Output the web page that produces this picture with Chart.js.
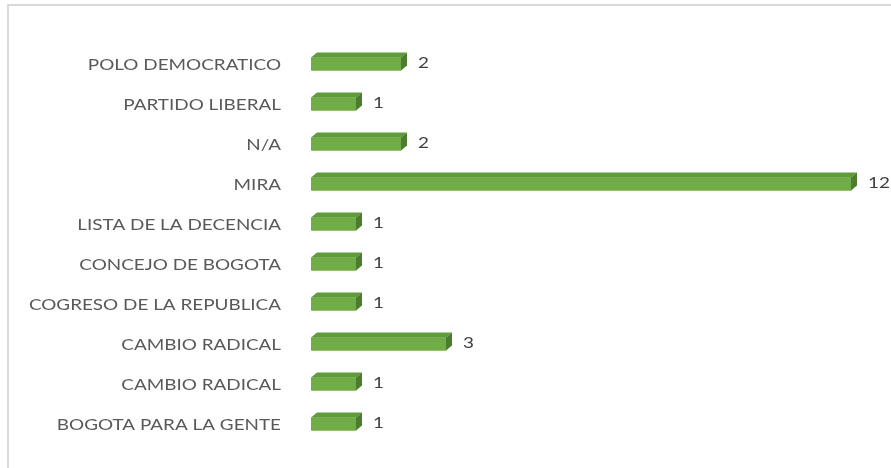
<!DOCTYPE html>
<html>
<head>
<meta charset="utf-8">
<script src="https://cdn.jsdelivr.net/npm/chart.js@4.4.1/dist/chart.umd.min.js"></script>
<style>
    body { margin: 0; background: #fff; overflow: hidden; }
    .frame {
        position: absolute; left: 7px; top: 4px; width: 900px; height: 480px;
        border-top: 2px solid #d9d9d9; border-left: 2px solid #d9d9d9;
    }
    .wrap { position: absolute; left: 0; top: 0; width: 891px; height: 468px; }
</style>
</head>
<body>
<div class="frame"></div>
<div class="wrap"><canvas id="myChart" width="891" height="468"></canvas></div>
<script>
let partidos = ["POLO DEMOCRATICO", "PARTIDO LIBERAL", "N/A", "MIRA", "LISTA DE LA DECENCIA",
    "CONCEJO DE BOGOTA", "COGRESO DE LA REPUBLICA", "CAMBIO RADICAL", "CAMBIO RADICAL", "BOGOTA PARA LA GENTE"];
let cantidad = [2, 1, 2, 12, 1, 1, 1, 3, 1, 1];

// the picture is stretched sideways a bit, so the text is too
let estirar = 1.18;

function texto(ctx, t, x, y, align, color) {
    ctx.save();
    ctx.translate(x, y);
    ctx.scale(estirar, 1);
    ctx.fillStyle = color;
    ctx.font = "16px Lato";
    ctx.textAlign = align;
    ctx.textBaseline = "middle";
    ctx.fillText(t, 0, 0);
    ctx.restore();
}

// fake 3d: top face + right side on every bar, then the labels
const cubo = {
    id: "cubo",
    afterDatasetsDraw(chart) {
        let ctx = chart.ctx;
        let meta = chart.getDatasetMeta(0);
        let yScale = chart.scales.y;
        let d = 6;
        ctx.save();
        meta.data.forEach(function (bar, i) {
            let left = bar.base, right = bar.x;
            let top = bar.y - bar.height / 2, bottom = bar.y + bar.height / 2;
            // top face
            ctx.fillStyle = "#5f9a3b";
            ctx.beginPath();
            ctx.moveTo(left, top);
            ctx.lineTo(left + d, top - d + 1);
            ctx.lineTo(right + d, top - d + 1);
            ctx.lineTo(right, top);
            ctx.closePath();
            ctx.fill();
            // side face
            ctx.fillStyle = "#4c7d2e";
            ctx.beginPath();
            ctx.moveTo(right, top);
            ctx.lineTo(right + d, top - d + 1);
            ctx.lineTo(right + d, bottom - d + 1);
            ctx.lineTo(right, bottom);
            ctx.closePath();
            ctx.fill();

            texto(ctx, String(cantidad[i]), right + 17, bar.y - 1, "left", "#404040");
            texto(ctx, partidos[i], 281, yScale.getPixelForTick(i) + 1, "right", "#595959");
        });
        ctx.restore();
    }
};

document.addEventListener("DOMContentLoaded", function () {
    let ctx = document.getElementById("myChart").getContext("2d");

    new Chart(ctx, {
        type: "bar",
        data: {
            labels: partidos,
            datasets: [{
                data: cantidad,
                backgroundColor: "#70ad47",
                barThickness: 13,
                borderWidth: 0
            }]
        },
        options: {
            indexAxis: "y",
            responsive: false,
            animation: false,
            layout: { padding: { left: 0, right: 13, top: 44, bottom: 24 } },
            plugins: {
                legend: { display: false },
                tooltip: { enabled: false }
            },
            scales: {
                x: {
                    display: false,
                    min: 0,
                    max: 12.6
                },
                y: {
                    grid: { display: false, drawTicks: false },
                    border: { display: false },
                    ticks: { display: false },
                    afterFit: function (scale) { scale.width = 311; }
                }
            }
        },
        plugins: [cubo]
    });
});
</script>
</body>
</html>
